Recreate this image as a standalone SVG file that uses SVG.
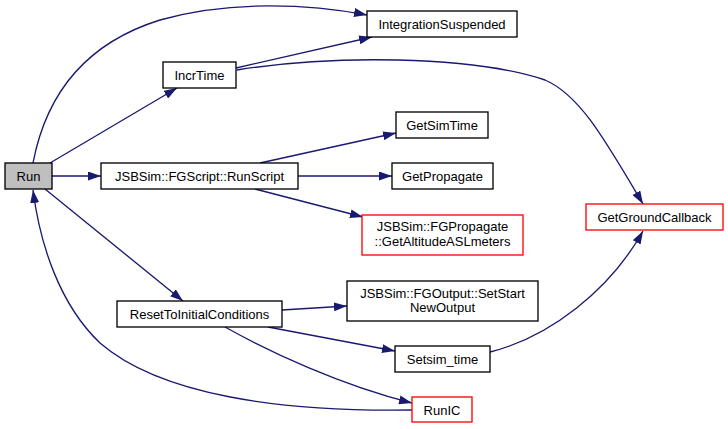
<svg xmlns="http://www.w3.org/2000/svg" width="728" height="429" viewBox="0 0 728 429">
<style>
  .n rect { fill: #ffffff; stroke: #000000; stroke-width: 1.33; }
  .n.root rect { fill: #bfbfbf; }
  .n.red rect { stroke: #ff0000; }
  .n text { font-family: "Liberation Sans", Arial, Helvetica, sans-serif; font-size: 13px; fill: #000000; text-anchor: middle; }
  .e path { fill: none; stroke: #191970; stroke-width: 1.33; marker-end: url(#ah); }
</style>
<defs>
  <marker id="ah" viewBox="0 0 13 9" refX="13" refY="4.5" markerWidth="13" markerHeight="9" markerUnits="userSpaceOnUse" orient="auto">
    <path d="M0,0 L13,4.5 L0,9 z" fill="#191970"/>
  </marker>
</defs>
<rect x="0" y="0" width="728" height="429" fill="#ffffff"/>
<g id="connectors" class="e">
  <path d="M33,163 C45,100 80,45 160,20 C230,0 310,4 367,15"/>
  <path d="M50,163 L177,88"/>
  <path d="M52,176 L101,176"/>
  <path d="M45,189 L183,301"/>
  <path d="M412,410 C280,412 160,395 100,343 C60,305 40,245 33,190"/>
  <path d="M236,68 L372,37"/>
  <path d="M237,70 C330,55 470,55 545,80 C580,95 605,140 643,204"/>
  <path d="M260,163 L396,133"/>
  <path d="M298,176 L392,176"/>
  <path d="M255,189 L363,217"/>
  <path d="M282,310 L347,306"/>
  <path d="M268,327 L395,351"/>
  <path d="M225,327 C270,352 340,385 412,403"/>
  <path d="M490,352 C550,337 610,290 643,231"/>
</g>
<g id="node-Run" class="n root"><rect x="5" y="163" width="47" height="26"/><text x="28.5" y="180.5">Run</text></g>
<g id="node-IncrTime" class="n"><rect x="163" y="62" width="73" height="26"/><text x="199.5" y="79.5">IncrTime</text></g>
<g id="node-IntegrationSuspended" class="n"><rect x="367" y="11" width="150" height="26"/><text x="442" y="28.5">IntegrationSuspended</text></g>
<g id="node-RunScript" class="n"><rect x="101" y="163" width="197" height="26"/><text x="199.5" y="180.5">JSBSim::FGScript::RunScript</text></g>
<g id="node-GetSimTime" class="n"><rect x="396" y="112" width="92" height="26"/><text x="442" y="129.5">GetSimTime</text></g>
<g id="node-GetPropagate" class="n"><rect x="392" y="163" width="101" height="26"/><text x="442.5" y="180.5">GetPropagate</text></g>
<g id="node-GetAltitudeASLmeters" class="n red"><rect x="362" y="215" width="161" height="40"/><text x="442.5" y="231">JSBSim::FGPropagate</text><text x="442.5" y="246">::GetAltitudeASLmeters</text></g>
<g id="node-GetGroundCallback" class="n red"><rect x="586" y="204" width="137" height="26"/><text x="654.5" y="221.5">GetGroundCallback</text></g>
<g id="node-ResetToInitialConditions" class="n"><rect x="117" y="301" width="165" height="26"/><text x="199.5" y="318.5">ResetToInitialConditions</text></g>
<g id="node-SetStartNewOutput" class="n"><rect x="347" y="281" width="191" height="40"/><text x="442.5" y="297.5">JSBSim::FGOutput::SetStart</text><text x="442.5" y="312">NewOutput</text></g>
<g id="node-Setsim_time" class="n"><rect x="395" y="346" width="95" height="26"/><text x="442.5" y="363.5">Setsim_time</text></g>
<g id="node-RunIC" class="n red"><rect x="412" y="397" width="60" height="25"/><text x="442" y="414.5">RunIC</text></g>
</svg>
